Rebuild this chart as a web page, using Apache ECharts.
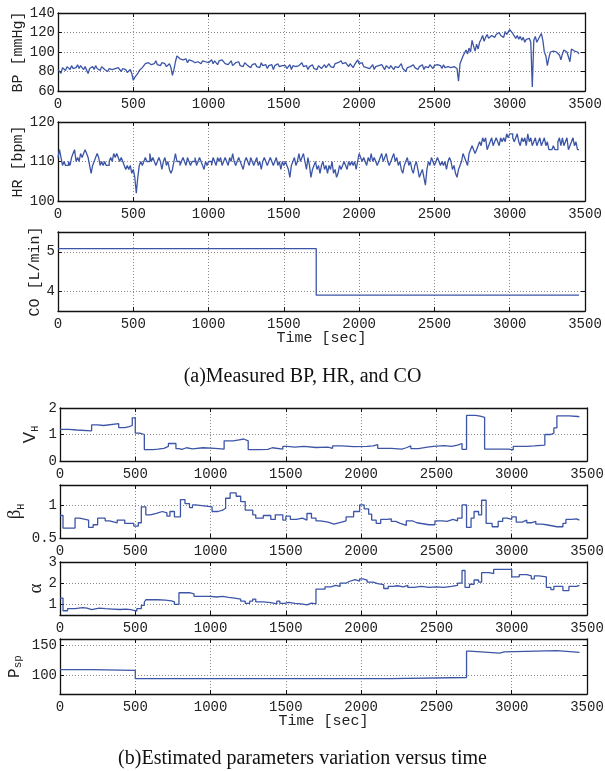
<!DOCTYPE html>
<html><head><meta charset="utf-8">
<script src="https://cdn.jsdelivr.net/npm/echarts@6/dist/echarts.min.js"></script>
<style>html,body{margin:0;padding:0;background:#fff}#c{width:605px;height:771px}</style>
</head><body><div id="c"></div>
<script>
// ---------------- data ----------------
const xTickStep = 500;
const timeMax = 3500;
const sampleStep = 10; // seconds between samples of BP and HR

const bpValues = [
82,80,78,84,83,81,85,84,82,86,
83,85,84,87,83,86,84,82,85,84,
78,83,84,85,82,86,83,84,81,85,
83,82,84,80,83,85,82,84,83,81,
84,82,80,83,81,82,79,80,82,78,
71,
74,76,78,81,79,84,85,88,87,89,
90,87,89,88,91,87,88,86,89,87,
88,85,86,88,84,76,82,90,96,94,
93,91,92,90,93,89,92,90,91,92,
89,91,90,92,88,91,89,90,91,89,
90,92,88,91,89,87,91,89,92,90,
88,90,87,89,91,86,88,89,87,90,
86,88,85,89,87,86,88,84,87,86,
88,85,87,84,89,86,85,87,83,86,
85,87,82,86,84,88,85,83,86,84,
86,83,85,87,82,86,84,85,83,86,
84,89,85,83,86,82,85,84,87,83,
85,82,86,84,83,85,87,84,86,88,
85,87,84,88,86,89,87,91,88,86,
89,87,85,88,86,84,87,89,92,88,
86,89,85,87,84,86,83,85,87,82,
85,83,86,84,87,85,82,86,84,83,
86,84,82,85,87,84,86,88,83,85,
80,84,86,85,83,87,84,86,82,85,
83,87,82,85,86,84,87,85,83,86,
84,87,85,86,83,87,84,86,85,87,
84,86,85,87,83,70,88,92,96,99,
102,98,104,100,112,106,101,108,103,110,
113,117,111,115,118,114,112,117,119,115,
118,116,120,117,119,115,121,118,120,123,
125,119,117,114,117,113,116,112,115,110,
113,111,114,110,64,112,116,110,113,114,
119,112,100,96,86,94,100,99,101,100,
100,99,97,92,98,102,103,100,101,90,
103,105,101,99,100,98
];

const hrValues = [
111,113,111,109,110,109,109,110,109,111,112,
113,110,111,110,112,111,112,113,112,111,
109,107,109,110,111,112,111,109,110,109,
110,109,109,110,111,110,112,111,112,111,
110,111,110,109,108,109,108,109,107,108,
106,102,106,109,110,109,110,111,110,110,
112,110,111,110,109,110,111,110,108,110,
111,109,110,108,107,108,110,112,110,110,
109,110,111,110,109,111,110,109,110,110,
111,109,110,111,110,109,108,110,109,110,
110,109,111,110,109,111,110,111,109,110,
111,110,109,111,110,112,110,109,110,111,
110,109,108,110,111,110,109,111,110,109,
110,111,109,110,108,110,111,110,109,110,
111,110,109,110,111,109,110,108,110,109,
110,109,108,106,109,110,111,109,110,112,
110,111,112,110,108,111,109,106,108,109,
110,108,109,107,109,110,108,109,107,109,
108,110,107,108,106,107,109,108,109,110,
109,108,110,109,110,109,110,108,110,112,
111,110,111,110,109,111,110,112,110,111,
110,109,110,111,112,110,111,112,110,109,
110,111,112,110,111,109,110,108,107,109,
110,111,109,110,108,107,109,110,108,106,
107,108,106,104,108,110,109,111,110,109,
110,111,110,109,110,109,110,108,110,111,
110,108,109,107,106,108,109,110,112,111,
110,109,112,113,114,113,112,113,114,115,
114,116,115,116,113,114,115,116,114,115,
116,115,114,116,115,116,115,117,116,117,
117,116,115,116,117,115,114,116,115,116,
114,117,115,116,114,115,116,114,115,116,
114,115,116,114,115,113,113,113,114,113,
113,115,116,114,116,114,115,116,113,114,
115,116,114,115,113,113
];

const coTimes  = [0, 1715, 3460];
const coValues = [5.08, 3.9, 3.9];

const vhTimes  = [0,60,110,210,250,290,390,430,460,480,500,530,560,620,650,690,720,770,790,810,840,880,950,1030,1090,1150,1190,1220,1250,1320,1380,1410,1480,1510,1560,1620,1700,1780,1810,1870,1950,2040,2080,2110,2200,2270,2300,2330,2380,2440,2480,2550,2600,2640,2670,2700,2760,2790,2820,2900,2980,3010,3100,3150,3220,3260,3280,3300,3380,3440,3450];
const vhValues = [1.19,1.17,1.14,1.36,1.34,1.41,1.26,1.3,1.34,1.63,1.05,1.0,0.43,0.45,0.48,0.55,0.66,0.47,0.44,0.5,0.46,0.5,0.48,0.45,0.76,0.8,0.83,0.76,0.43,0.44,0.5,0.45,0.55,0.52,0.55,0.51,0.52,0.48,0.57,0.54,0.55,0.57,0.62,0.48,0.45,0.5,0.57,0.47,0.52,0.55,0.58,0.55,0.6,0.66,0.44,1.72,1.69,1.65,0.45,0.45,0.42,0.55,0.57,0.6,1.0,1.05,1.25,1.7,1.68,1.66,1.66];

const bhTimes  = [0,20,100,130,190,220,250,300,330,380,430,490,520,540,570,600,640,680,710,730,760,800,830,860,880,900,1010,1050,1080,1100,1130,1170,1200,1230,1280,1300,1350,1400,1430,1480,1500,1530,1570,1610,1640,1670,1700,1730,1780,1820,1870,1900,1950,1990,2020,2050,2070,2100,2130,2170,2200,2230,2260,2300,2340,2370,2450,2490,2540,2570,2610,2640,2670,2700,2730,2750,2780,2800,2830,2870,2910,2940,2970,3000,3030,3070,3100,3130,3160,3200,3230,3300,3340,3360,3400,3430,3450];
const bhValues = [0.84,0.65,0.8,0.77,0.66,0.7,0.8,0.76,0.73,0.77,0.72,0.68,0.73,0.97,0.85,0.87,0.9,0.88,0.83,0.9,0.82,1.08,1.02,0.96,1.0,0.97,0.9,0.92,0.95,1.1,1.18,1.13,1.05,0.92,0.85,0.8,0.84,0.78,0.85,0.77,0.83,0.78,0.8,0.77,0.87,0.8,0.76,0.74,0.71,0.74,0.76,0.82,0.9,1.0,0.94,0.86,0.77,0.72,0.78,0.79,0.75,0.72,0.69,0.76,0.73,0.7,0.7,0.76,0.75,0.78,0.76,0.8,1.0,0.66,0.8,0.9,0.85,1.07,0.72,0.67,0.75,0.8,0.78,0.82,0.74,0.77,0.73,0.75,0.71,0.7,0.67,0.67,0.72,0.78,0.79,0.77,0.77];

const alTimes  = [0,20,50,100,150,180,210,260,300,350,400,440,470,490,510,540,560,570,650,700,740,760,790,860,890,1000,1040,1080,1120,1160,1200,1230,1260,1280,1300,1350,1400,1440,1460,1490,1520,1560,1600,1640,1670,1700,1760,1800,1830,1860,1900,1920,1960,1990,2010,2040,2080,2110,2150,2180,2210,2240,2280,2310,2350,2400,2450,2500,2550,2600,2640,2670,2690,2720,2750,2780,2800,2850,2880,3000,3050,3100,3130,3150,3180,3230,3260,3280,3340,3380,3430,3450];
const alValues = [1.3,0.7,0.8,0.85,0.82,0.75,0.82,0.8,0.78,0.76,0.78,0.75,0.72,0.68,0.8,0.95,1.1,1.22,1.2,1.17,1.12,1.0,1.55,1.5,1.38,1.35,1.38,1.33,1.3,1.25,1.15,1.05,1.15,1.25,1.12,1.08,1.02,1.15,1.05,1.1,1.05,1.02,0.98,1.06,1.02,1.72,1.83,1.9,1.85,2.0,2.08,2.17,2.1,2.2,2.15,2.05,1.98,1.93,1.75,1.85,1.88,1.83,1.9,1.8,1.85,1.8,1.83,1.8,1.85,1.9,2.0,2.6,1.8,1.95,2.15,2.05,2.5,2.45,2.65,2.3,2.4,2.35,2.2,2.35,2.3,1.8,1.7,1.85,1.65,1.85,1.9,1.9];

const psTimes  = [0,210,500,2190,2700,2720,2920,2950,3300,3450];
const psValues = [110,108.5,95,97,140,137,139,141,138,138];

const yTicks = {
  bp: [60,80,100,120,140], hr: [100,110,120], co: [4,5],
  vh: [0,1,2], bh: [0.5,1], al: [1,2,3], ps: [100,150]
};

// ---------------- helpers ----------------
const MONO = 'Liberation Mono';
const LINE = '#3c55a6';
function pairs(t, v){ return v.map((y,i)=>[t[i], y]); }
function sampled(v){ return v.map((y,i)=>[i*sampleStep, y]); }

const panels = [
  {left:58, width:527, top:13,  height:78, min:60,  max:140, ticks:yTicks.bp, name:'BP [mmHg]', gap:32, data:sampled(bpValues), step:false},
  {left:58, width:527, top:122, height:79, min:100, max:120, ticks:yTicks.hr, name:'HR [bpm]', gap:32, data:sampled(hrValues), step:'end'},
  {left:58, width:527, top:232, height:79, min:3.5, max:5.5, ticks:yTicks.co, name:'CO [L/min]', gap:15, data:pairs(coTimes,coValues), step:'end', xname:true},
  {left:60, width:527, top:408, height:53, min:0,   max:2,   ticks:yTicks.vh, name:'{a|V}{b|H}', gap:20, data:pairs(vhTimes,vhValues), step:'end',
     rich:{a:{fontFamily:'Liberation Sans',fontSize:17,lineHeight:20},b:{fontFamily:MONO,fontSize:10,lineHeight:10,verticalAlign:'bottom'}}},
  {left:60, width:527, top:485, height:53, min:0.5, max:1.3, ticks:yTicks.bh, name:'{a|β}{b|H}', gap:34, data:pairs(bhTimes,bhValues), step:'end',
     rich:{a:{fontFamily:'Liberation Serif',fontSize:19,lineHeight:22},b:{fontFamily:MONO,fontSize:10,lineHeight:10,verticalAlign:'bottom'}}},
  {left:60, width:527, top:562, height:53, min:0.5, max:3,   ticks:yTicks.al, name:'{a|α}', gap:13, data:pairs(alTimes,alValues), step:'end',
     rich:{a:{fontFamily:'Liberation Serif',fontSize:19,lineHeight:22}}},
  {left:60, width:527, top:639, height:55, min:70,  max:160, ticks:yTicks.ps, name:'{a|P}{b|sp}', gap:36, data:pairs(psTimes,psValues), step:'end', xname:true,
     rich:{a:{fontFamily:MONO,fontSize:16,lineHeight:18},b:{fontFamily:MONO,fontSize:11,lineHeight:11,verticalAlign:'bottom'}}}
];

const grids=[], xAxes=[], yAxes=[], series=[];
const axLine = {show:true,onZero:false,lineStyle:{color:'#111',width:1.3}};
const tick = {show:true,inside:true,length:4,lineStyle:{color:'#111',width:1}};
const split = {show:true,lineStyle:{type:[1,2],color:'#8a8a8a',width:1}};
const plain = v => String(v);
panels.forEach((p,i)=>{
  grids.push({left:p.left, top:p.top, width:p.width, height:p.height, containLabel:false, outerBoundsMode:'none'});
  const xb = {gridIndex:i,type:'value',min:0,max:timeMax,interval:xTickStep,position:'bottom',
    axisLine:axLine, axisTick:tick, splitLine:split, nameMoveOverlap:false,
    axisLabel:{margin:6,fontFamily:MONO,fontSize:14,color:'#222',showMinLabel:true,showMaxLabel:true,formatter:plain}};
  if(p.xname){ xb.name='Time [sec]'; xb.nameLocation='middle'; xb.nameGap=20;
    xb.nameTextStyle={fontFamily:MONO,fontSize:15,color:'#222'}; }
  xAxes.push(xb);
  xAxes.push({gridIndex:i,type:'value',min:0,max:timeMax,interval:xTickStep,position:'top',
    axisLine:axLine, axisTick:tick, splitLine:{show:false}, axisLabel:{show:false}});
  const yl = {gridIndex:i,type:'value',min:p.min,max:p.max,position:'left',
    axisLine:axLine, axisTick:Object.assign({customValues:p.ticks},tick), splitLine:split,
    axisLabel:{customValues:p.ticks,margin:3,fontFamily:MONO,fontSize:14,color:'#222',formatter:plain},
    name:p.name,nameLocation:'middle',nameGap:p.gap,nameMoveOverlap:false,
    nameTextStyle:{fontFamily:MONO,fontSize:15,color:'#222',rich:p.rich}};
  yAxes.push(yl);
  yAxes.push({gridIndex:i,type:'value',min:p.min,max:p.max,position:'right',
    axisLine:axLine, axisTick:Object.assign({customValues:p.ticks},tick), splitLine:{show:false}, axisLabel:{show:false}});
  series.push({type:'line',xAxisIndex:2*i,yAxisIndex:2*i,data:p.data,step:p.step,showSymbol:false,
    lineStyle:{color:LINE,width:1.3},itemStyle:{color:LINE},animation:false,silent:true});
});

const chart = echarts.init(document.getElementById('c'),null,{renderer:'canvas'});
chart.setOption({
  animation:false,
  grid:grids, xAxis:xAxes, yAxis:yAxes, series:series,
  graphic:[
    {type:'text',x:302.5,y:377,style:{text:'(a)Measured BP, HR, and CO',fontFamily:'Liberation Serif',fontSize:20,fill:'#111',align:'center',verticalAlign:'middle'}},
    {type:'text',x:302.5,y:759,style:{text:'(b)Estimated parameters variation versus time',fontFamily:'Liberation Serif',fontSize:20,fill:'#111',align:'center',verticalAlign:'middle'}}
  ]
});
</script></body></html>
